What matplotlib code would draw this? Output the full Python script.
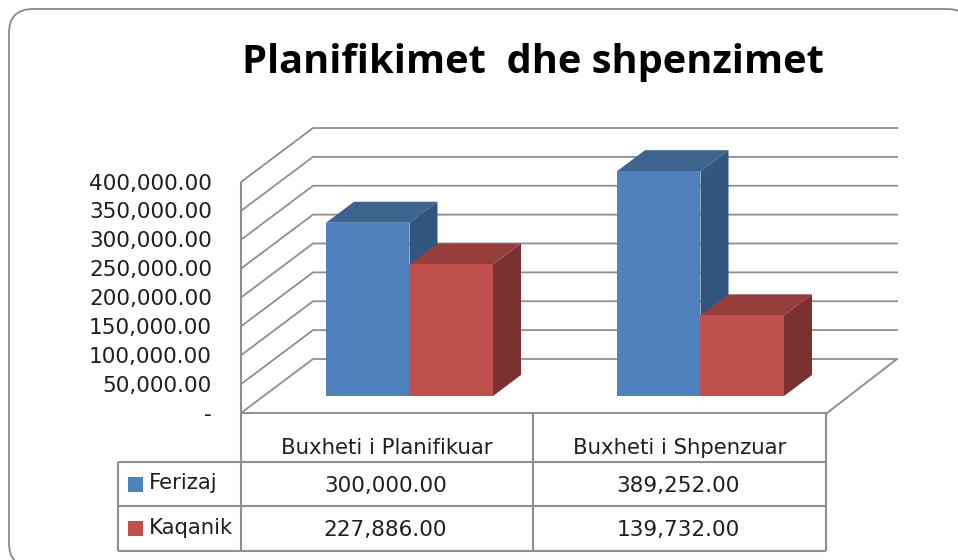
import matplotlib
matplotlib.use("Agg")
import matplotlib.pyplot as plt
from matplotlib.patches import Polygon, Rectangle, FancyBboxPatch

title = "Planifikimet  dhe shpenzimet"
categories = ["Buxheti i Planifikuar", "Buxheti i Shpenzuar"]
series_names = ["Ferizaj", "Kaqanik"]
ferizaj = [300000.00, 389252.00]
kaqanik = [227886.00, 139732.00]
axis_ticks = [0, 50000, 100000, 150000, 200000, 250000, 300000, 350000, 400000]
series_values = [ferizaj, kaqanik]

TITLE_FONT = "Open Sans"
FONT = "DejaVu Sans"
GRID = "#8f8f8f"
TXT = "#1f1f1f"
FACE = ["#4f81bd", "#c0504d"]
TOP = ["#3d638f", "#963e3b"]
SIDE = ["#30557f", "#7a3130"]

fig = plt.figure(figsize=(9.58, 5.6), dpi=100)
ax = fig.add_axes([0, 0, 1, 1])
ax.set_xlim(0, 958)
ax.set_ylim(560, 0)
ax.axis("off")

# frame
ax.add_patch(FancyBboxPatch((9, 9), 962, 558, boxstyle="round,pad=0,rounding_size=24",
                            fc="white", ec="#8a8a8a", lw=1.3, zorder=0, clip_on=True))

ax.text(532.5, 62, title, ha="center", va="center", fontsize=28.6, fontweight="bold",
        family=TITLE_FONT, color="black")

# 3D geometry
LEFT, BACK, RIGHT_BACK = 241, 313, 898
FRONT_Y, BACK_Y = 413, 359
UNIT = 231 / 400000


def front_y(v):
    return FRONT_Y - v * UNIT


def back_y(v):
    return BACK_Y - v * UNIT


def line(xs, ys, lw=1.3, z=1):
    ax.plot(xs, ys, color=GRID, lw=lw, zorder=z, solid_capstyle="butt")


for i, t in enumerate(axis_ticks):
    line([LEFT, BACK, RIGHT_BACK], [front_y(t), back_y(t), back_y(t)])
    lab = "-" if t == 0 else f"{t:,.2f}"
    ax.text(212, front_y(t) + 1.5, lab, ha="right", va="center", fontsize=15.6,
            family=FONT, color=TXT)

# floor
line([LEFT, 827, 897], [FRONT_Y, FRONT_Y, BACK_Y], lw=1.4)
line([LEFT, LEFT], [front_y(400000), 551], lw=1.5)

# bars
BAR_BASE = 396
BAR_W = 83.5
DX, DY = 28, 21
group_x = [326, 617]
for g, x0 in enumerate(group_x):
    for s, vals in enumerate(series_values):
        xl = x0 + s * BAR_W
        xr = xl + BAR_W
        yt = BAR_BASE - vals[g] * UNIT
        ax.add_patch(Polygon([(xr, BAR_BASE), (xr + DX, BAR_BASE - DY), (xr + DX, yt - DY), (xr, yt)],
                             fc=SIDE[s], ec="none", zorder=3 + s))
        ax.add_patch(Polygon([(xl, yt), (xl + DX, yt - DY), (xr + DX, yt - DY), (xr, yt)],
                             fc=TOP[s], ec="none", zorder=3 + s))
        ax.add_patch(Rectangle((xl, yt), BAR_W, BAR_BASE - yt, fc=FACE[s], ec="none", zorder=4 + s))

# data table
COLS = [241, 533, 826]
ROWS = [462, 506, 551]
for r in ROWS:
    line([118, 826], [r, r], lw=1.5)
line([118, 118], [ROWS[0], ROWS[2]], lw=1.5)
line([533, 533], [FRONT_Y, ROWS[2]], lw=1.5)
line([826, 826], [FRONT_Y, ROWS[2]], lw=1.5)

for c, cat in enumerate(categories):
    cx = (COLS[c] + COLS[c + 1]) / 2
    ax.text(cx, 448, cat, ha="center", va="center", fontsize=15.3, family=FONT, color=TXT)
    for s, vals in enumerate(series_values):
        cy = (ROWS[s] + ROWS[s + 1]) / 2 + 1.5
        ax.text(cx - 1.5, cy, f"{vals[c]:,.2f}", ha="center", va="center", fontsize=15.6,
                family=FONT, color=TXT)

for s, name in enumerate(series_names):
    cy = (ROWS[s] + ROWS[s + 1]) / 2
    ax.add_patch(Rectangle((128, cy - 7.5), 15, 15, fc=FACE[s], ec="none", zorder=4))
    ax.text(149, cy - 1, name, ha="left", va="center", fontsize=15.3, family=FONT, color=TXT)

fig.savefig("out.png", dpi=100)
